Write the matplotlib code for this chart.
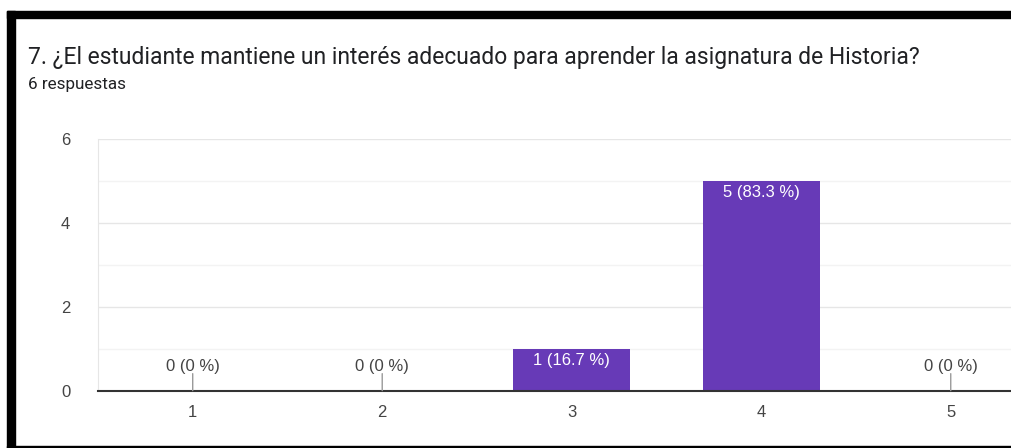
import matplotlib.pyplot as plt
from matplotlib.patches import Rectangle

plt.rcParams['font.family'] = ['Roboto', 'DejaVu Sans']

TITLE = '7. ¿El estudiante mantiene un interés adecuado para aprender la asignatura de Historia?'
SUBTITLE = '6 respuestas'
categories = ['1', '2', '3', '4', '5']
counts = [0, 0, 1, 5, 0]
percents = ['0 %', '0 %', '16.7 %', '83.3 %', '0 %']
y_ticks = [0, 2, 4, 6]

BAR_COLOR = '#673ab7'
TEXT_COLOR = '#202124'
AXIS_TEXT = '#444444'
CHART_FONT = ['Liberation Sans', 'DejaVu Sans']

fig = plt.figure(figsize=(10.12, 4.48), dpi=100)
fig.patch.set_facecolor('white')

# screenshot frame (black edges of the crop)
fig.patches.append(Rectangle((0.0069, 0.9598), 1.0, 0.0156, transform=fig.transFigure,
                             color='black', zorder=10))
fig.patches.append(Rectangle((0.0069, 0.0), 0.0079, 0.9754, transform=fig.transFigure,
                             color='black', zorder=10))
fig.patches.append(Rectangle((0.0069, 0.0), 1.0, 0.0045, transform=fig.transFigure,
                             color='black', zorder=10))

fig.text(0.0277, 0.857, TITLE, fontsize=16.5, color=TEXT_COLOR, va='baseline')
fig.text(0.0277, 0.802, SUBTITLE, fontsize=12.3, color=TEXT_COLOR, va='baseline')

ax = fig.add_axes([0.0968, 0.128, 0.9363, 0.5618])
x = list(range(len(categories)))
ax.bar(x, counts, width=0.615, color=BAR_COLOR, zorder=3)

ax.set_xlim(-0.5, len(categories) - 0.5)
ax.set_ylim(0, 6)
ax.set_yticks(y_ticks)
ax.set_yticks([1, 3, 5], minor=True)
ax.grid(axis='y', which='major', color='#e6e6e6', lw=1, zorder=0)
ax.grid(axis='y', which='minor', color='#f3f3f3', lw=1, zorder=0)
ax.set_xticks(x)
ax.set_xticklabels(categories)
ax.tick_params(axis='both', which='both', length=0, labelsize=12, labelcolor=AXIS_TEXT)
ax.tick_params(axis='y', pad=20)
ax.tick_params(axis='x', pad=10)
for lbl in ax.get_xticklabels() + ax.get_yticklabels():
    lbl.set_family(CHART_FONT)

for side in ['top', 'right']:
    ax.spines[side].set_visible(False)
ax.spines['left'].set_color('#e6e6e6')
ax.spines['bottom'].set_color('#333333')
ax.spines['bottom'].set_linewidth(1.5)
ax.spines['bottom'].set_zorder(4)

for i, (c, p) in enumerate(zip(counts, percents)):
    label = f'{c} ({p})'
    if c > 0:
        ax.annotate(label, xy=(i, c), xytext=(0, -12), textcoords='offset pixels',
                    ha='center', va='center', fontsize=12, color='white',
                    family=CHART_FONT, zorder=5)
    else:
        ax.annotate('', xy=(i, 0), xytext=(0, 17), textcoords='offset pixels',
                    arrowprops=dict(arrowstyle='-', color='#999999', lw=1,
                                    shrinkA=0, shrinkB=0), zorder=6)
        ax.annotate(label, xy=(i, 0), xytext=(0, 24), textcoords='offset pixels',
                    ha='center', va='center', fontsize=12, color=AXIS_TEXT,
                    family=CHART_FONT, zorder=5)

fig.savefig('out.png', dpi=100)
